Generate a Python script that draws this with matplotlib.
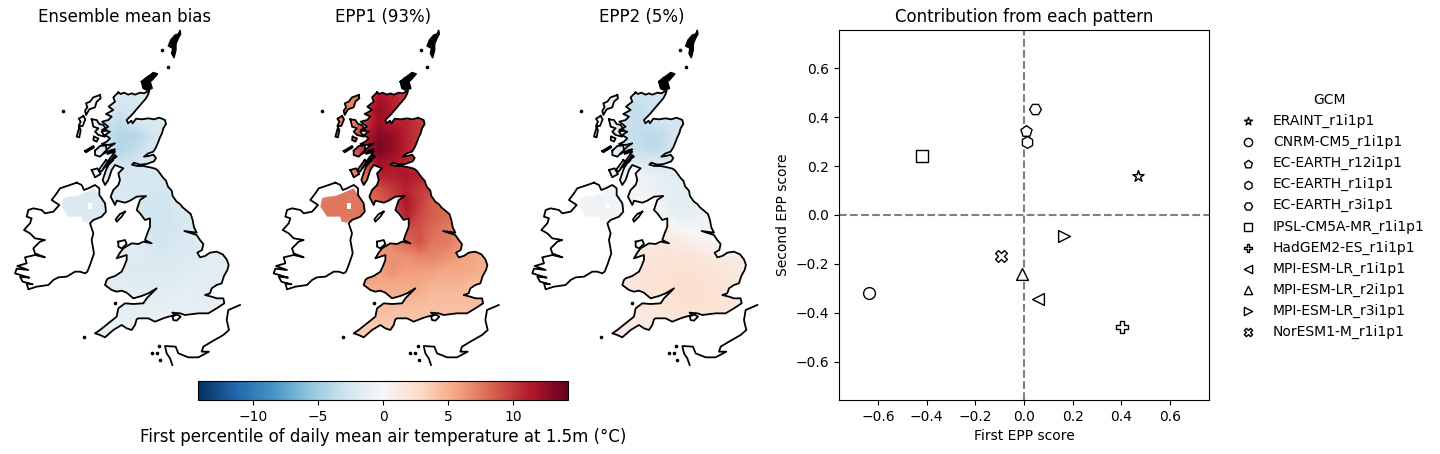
import numpy as np
import matplotlib
matplotlib.use('Agg')
import matplotlib.pyplot as plt
from matplotlib.path import Path

# coastlines, units are arbitrary map units
great_britain = [(355,217),(362,222),(372,218),(385,224),(395,220),(405,224),(420,218),(432,220),(448,212),(445,222),(438,235),(425,250),(418,258),(408,270),(398,282),(388,292),(380,300),(384,310),(394,302),(398,310),(408,296),(425,298),(445,295),(462,298),(478,293),(495,300),(498,312),(490,325),(486,340),(480,352),(474,368),(468,382),(460,395),(445,400),(432,410),(446,408),(460,404),(468,414),(462,424),(440,432),(420,434),(402,428),(396,434),(412,438),(430,438),(450,442),(466,446),(474,452),(484,466),(490,474),(498,482),(504,500),(515,512),(518,528),(530,545),(540,552),(548,562),(560,572),(572,582),(578,600),(582,622),(590,638),(575,636),(553,633),(575,640),(590,645),(600,660),(610,672),(606,690),(592,698),(600,712),(615,708),(630,698),(650,695),(668,703),(680,718),(686,735),(682,750),(672,768),(665,790),(650,795),(635,805),(630,820),(615,825),(635,830),(650,835),(670,835),(673,850),(650,865),(625,880),(595,880),(555,885),(540,880),(517,878),(525,886),(505,890),(490,895),(465,905),(445,895),(415,895),(410,898),(405,915),(395,930),(380,925),(365,915),(340,930),(315,952),(300,945),(285,940),(300,930),(325,910),(350,890),(355,865),(375,850),(400,852),(430,850),(440,835),(470,805),(445,820),(425,828),(400,835),(380,818),(365,812),(350,815),(335,810),(315,795),(320,780),(325,775),(345,768),(365,755),(372,740),(380,720),(380,705),(350,715),(360,698),(370,685),(395,670),(415,672),(430,665),(455,670),(435,660),(442,640),(450,620),(450,595),(435,600),(420,580),(410,570),(415,555),(420,540),(438,528),(410,530),(390,542),(375,548),(350,542),(345,555),(332,530),(340,510),(355,495),(360,480),(355,460),(370,445),(345,435),(335,450),(325,480),(315,495),(308,480),(318,450),(330,425),(340,420),(320,440),(345,405),(350,410),(335,420),(310,445),(330,415),(345,395),(322,402),(345,388),(335,390),(308,402),(330,380),(345,370),(325,375),(305,372),(320,365),(330,355),(315,345),(330,335),(306,330),(325,320),(306,305),(325,300),(335,290),(318,282),(340,270),(326,260),(345,245),(340,232)]
ireland = [(230,488),(245,495),(252,510),(265,505),(285,495),(298,505),(298,525),(315,550),(318,575),(305,590),(280,600),(270,610),(275,625),(280,640),(275,660),(282,700),(270,735),(262,755),(255,760),(240,755),(225,755),(200,770),(175,772),(160,780),(145,795),(110,800),(85,808),(80,790),(98,793),(68,785),(60,770),(88,773),(45,760),(50,746),(85,750),(52,738),(80,730),(75,712),(105,705),(135,712),(105,700),(100,685),(120,665),(135,660),(105,655),(90,640),(72,630),(90,610),(95,595),(80,590),(85,570),(100,565),(125,570),(135,580),(160,575),(178,555),(155,540),(170,520),(180,505),(210,495)]
northern_ireland = [(190,535),(205,530),(230,528),(255,518),(285,505),(298,525),(315,550),(318,575),(305,590),(280,600),(265,608),(248,605),(245,590),(205,590),(195,575),(185,560)]
lough_neagh = [(265,550),(277,550),(277,568),(265,568)]
lewis = [(300,225),(302,235),(290,245),(285,262),(268,268),(258,285),(255,272),(262,262),(258,250),(270,245),(280,232)]
north_uist = [(250,288),(256,298),(248,318),(236,318),(242,305),(236,296)]
south_uist = [(238,322),(242,330),(238,352),(230,350),(234,335)]
skye = [(275,298),(290,300),(298,312),(310,315),(320,330),(305,335),(315,350),(295,345),(285,335),(295,325),(280,320)]
rum = [(282,350),(295,355),(290,365),(280,360)]
mull = [(285,392),(300,378),(318,376),(320,392),(300,410),(285,405)]
tiree = [(255,393),(280,378),(282,382),(258,397)]
jura = [(318,420),(325,426),(304,455),(296,450)]
islay = [(275,450),(292,445),(302,462),(285,472)]
shetland = [(540,30),(535,42),(525,45),(512,60),(505,78),(518,85),(515,100),(522,114),(528,90),(528,72),(535,55),(542,42)]
orkney_a = [(425,185),(440,172),(448,178),(456,205),(440,210),(430,205)]
orkney_b = [(445,170),(460,158),(472,162),(458,178),(450,185)]
man = [(375,575),(365,590),(350,605),(347,598),(360,582)]
anglesey = [(355,665),(375,660),(380,672),(365,685),(355,680)]
wight = [(517,888),(532,884),(542,890),(530,902),(520,900)]
small_islands = [(190,273),(487,90),(505,142),(252,952),(345,850),(455,998),(480,1020),(477,977),(470,1000)]
france = [(720,855),(685,870),(680,900),(687,930),(670,945),(635,965),(610,980),(605,995),(627,995),(595,1012),(565,1012),(535,1000),(527,980),(495,978),(500,1000),(510,1015),(517,1035)]

# coarse read of the colours, rows north to south, columns west to east
grid_x = [200,240,280,320,360,400,440,480,520,560,600,640,680]
grid_y = [230,270,310,350,390,430,470,510,550,590,630,670,710,750,790,830,870,910,950]
bias = [
 [-.3,-.3,-.3,-2,-2.2,-2.2,-2,-2,-2,-2,-2,-2,-2],
 [-.3,-.3,-.3,-2.5,-2.8,-2.5,-2,-2,-2,-2,-2,-2,-2],
 [-.3,-.3,-.3,-3,-3.6,-2.8,-2.2,-2.2,-2,-2,-2,-2,-2],
 [-.3,-.3,-.5,-3.3,-4,-4.2,-3.2,-2.2,-2,-2,-2,-2,-2],
 [-.3,-.3,-.5,-3,-4.2,-3.6,-2.8,-2.2,-2,-2,-2,-2,-2],
 [-.3,-.3,-.5,-2,-3,-2.8,-2.2,-2.2,-2,-2,-2,-2,-2],
 [-.3,-.3,-.5,-2,-2.3,-2.3,-2.2,-2.2,-2.2,-2,-2,-2,-2],
 [-1.8,-2,-2,-2,-2.2,-2.2,-2.5,-2.5,-2.3,-2.2,-2,-2,-2],
 [-2,-2.1,-1.9,-2,-2.2,-2.2,-2.8,-2.8,-2.5,-2.2,-2,-2,-2],
 [-2,-2.1,-2,-2,-2.2,-2.5,-2.8,-2.8,-2.5,-2.2,-2,-2,-2],
 [-1.8,-1.8,-1.8,-1.8,-1.8,-2,-2.5,-2.8,-2.5,-2.2,-2,-1.8,-1.8],
 [-1.8,-1.8,-1.8,-1.8,-1.8,-1.8,-2.2,-2.8,-2.2,-2.2,-1.8,-1.8,-1.8],
 [-1.8,-1.8,-1.8,-1.8,-1.8,-1.8,-2,-2.2,-2,-2,-1.8,-1.7,-1.5],
 [-1.8,-1.8,-1.8,-1.8,-1.8,-2,-2,-2,-2,-1.8,-1.7,-1.5,-1.5],
 [-1.6,-1.6,-1.6,-1.6,-1.6,-1.8,-1.8,-1.8,-1.7,-1.5,-1.5,-1.5,-1.2],
 [-1.3,-1.3,-1.3,-1.3,-1.3,-1.3,-1.5,-1.5,-1.3,-1.3,-1.5,-1.3,-1.2],
 [-1.1,-1.1,-1.1,-1.2,-1.3,-1.3,-1.3,-1.2,-1.2,-1.3,-1.2,-1.1,-1.1],
 [-1,-1,-1,-1,-1.1,-1,-1,-1,-1,-1,-1,-1,-1],
 [-1,-1,-1,-1,-1,-1,-1,-1,-1,-1,-1,-1,-1],
]
epp1 = [
 [7,7,7,9,11.5,11,10,10,10,10,10,10,10],
 [7,7,7,10,12.5,11,10,10,10,10,10,10,10],
 [7,7,7,10,12,11,11,10,10,10,10,10,10],
 [7,7,7.5,11,13,12.5,11,10,10,10,10,10,10],
 [7,7,8,11,13.5,12.5,11,10,10,10,10,10,10],
 [7,7,7,9.5,12,11.5,11,10,10,10,10,10,10],
 [7,7,7,8,11,11,11.5,11,10,10,10,10,10],
 [7,7.5,7.5,8,9,10,11,10,9.5,9,9,9,9],
 [7.5,7.5,7.5,7.5,8.5,9.5,11.5,10,8.5,8,8,8,8],
 [7.5,7.5,7.5,8,8.5,8.5,11,9.5,8.5,8,7,7,7],
 [7,7,7,7,8,9,9,9,8,7.5,7,7,7],
 [6,6,6,6,6,7,8,9,7.5,7.5,6.5,6,6],
 [6,6,6,6,6,6.5,6.5,7,7,6.5,6,5.5,5],
 [6,6,6,6,6,6.5,6,6,6,5.5,5.5,5.5,5],
 [5.5,5.5,5.5,5.5,5.5,5.5,5.5,5.5,5,5,5,4.5,4.5],
 [5,5,5,5,5,5,5,5,4.5,4.5,4.5,4.5,4.5],
 [4.5,4.5,4.5,4.5,4.5,4.3,4.2,4.2,4.2,4.2,4.2,4.2,4.2],
 [4,4,4,3.8,3.8,3.8,3.8,4,4,4,4,4,4],
 [3.5,3.5,3.5,3.5,3.5,3.5,3.5,3.5,3.5,3.5,3.5,3.5,3.5],
]
epp2 = [
 [-.3,-.3,-.3,-2.5,-3,-3,-2.5,-2.5,-2.5,-2.5,-2.5,-2.5,-2.5],
 [-.3,-.3,-.3,-3,-3.5,-3,-2.5,-2.5,-2.5,-2.5,-2.5,-2.5,-2.5],
 [-.3,-.3,-.3,-3,-3.5,-3,-2.8,-2.5,-2.5,-2.5,-2.5,-2.5,-2.5],
 [-.3,-.3,-.5,-3,-3.5,-3.8,-3.5,-2.5,-2.5,-2.5,-2.5,-2.5,-2.5],
 [-.3,-.3,-.5,-2.8,-3.2,-3.8,-3.2,-2.5,-2.5,-2.5,-2.5,-2.5,-2.5],
 [-.3,-.3,-.5,-1.5,-2.2,-2.2,-2.2,-2,-2,-2,-2,-2,-2],
 [-.3,-.3,-.5,-.2,-.5,-1,-1.5,-1.5,-1.5,-1.5,-1.5,-1.5,-1.5],
 [-.4,-.4,-.4,-.2,-.3,-.8,-1.2,-1.5,-1.5,-1.5,-1.5,-1.5,-1.5],
 [-.4,-.5,-.4,-.3,.1,.2,-1,-1.8,-1.3,-1,-1,-1,-1],
 [-.4,-.5,-.5,-.4,.5,.6,-.4,-1.2,-1,-.8,-.7,-.7,-.7],
 [1,1,1,1,1,1,.9,.2,-.4,-.4,-.3,-.3,-.3],
 [1.5,1.5,1.5,1.5,1.5,1.5,1.6,1.4,.9,.6,.3,.3,.3],
 [1.6,1.6,1.6,1.6,1.6,1.8,1.9,1.9,1.8,1.5,1.2,1,1],
 [1.6,1.6,1.6,1.6,1.7,1.9,2.1,2.2,2.1,2,1.8,1.5,1.4],
 [1.5,1.5,1.5,1.5,1.7,2,2.1,2.3,2.3,2.2,1.9,1.7,1.5],
 [1.5,1.5,1.5,1.5,1.5,1.8,2,2.2,2.3,2.2,2,1.7,1.5],
 [1.4,1.4,1.4,1.4,1.5,1.6,1.8,2,2.1,2.1,1.8,1.6,1.4],
 [1.2,1.2,1.2,1.2,1.2,1.4,1.5,1.6,1.6,1.6,1.6,1.6,1.6],
 [1.2,1.2,1.2,1.2,1.2,1.2,1.2,1.2,1.2,1.2,1.2,1.2,1.2],
]

map_titles = ['Ensemble mean bias', 'EPP1 (93%)', 'EPP2 (5%)']
map_left = [0, 258.7, 517.3]
title_centre = [125, 383, 642]

gcm_names = ['ERAINT_r1i1p1','CNRM-CM5_r1i1p1','EC-EARTH_r12i1p1','EC-EARTH_r1i1p1','EC-EARTH_r3i1p1','IPSL-CM5A-MR_r1i1p1','HadGEM2-ES_r1i1p1','MPI-ESM-LR_r1i1p1','MPI-ESM-LR_r2i1p1','MPI-ESM-LR_r3i1p1','NorESM1-M_r1i1p1']
gcm_markers = ['*','o','p','h','H','s','P','<','^','>','X']
first_score = [0.468,-0.635,0.008,0.014,0.045,-0.419,0.403,0.058,-0.008,0.164,-0.096]
second_score = [0.159,-0.318,0.343,0.297,0.433,0.241,-0.457,-0.342,-0.24,-0.084,-0.166]

W, H = 1440, 454
fig = plt.figure(figsize=(W/100, H/100), dpi=100)

def px_axes(left, top, width, height):
    return fig.add_axes([left/W, 1-(top+height)/H, width/W, height/H])

coloured = [great_britain, northern_ireland, lewis, north_uist, south_uist, skye, rum, mull, tiree, jura, islay]
outlined = [great_britain, ireland, lewis, north_uist, south_uist, skye, rum, mull, tiree, jura, islay, orkney_a, orkney_b, man, anglesey, wight]

clip = Path.make_compound_path(*[Path(np.array(p + [p[0]])) for p in coloured])
hole_x, hole_y = zip(*(lough_neagh + lough_neagh[:1]))

for left, title, centre, values in zip(map_left, map_titles, title_centre, [bias, epp1, epp2]):
    ax = px_axes(left, 20, 260, 350)
    im = ax.imshow(values, cmap='RdBu_r', vmin=-14.2, vmax=14.2, interpolation='bilinear',
                   extent=[grid_x[0]-20, grid_x[-1]+20, grid_y[-1]+20, grid_y[0]-20], aspect='auto')
    im.set_clip_path(clip, transform=ax.transData)
    ax.fill(hole_x, hole_y, color='white', lw=0)
    for p in outlined:
        x, y = zip(*(p + p[:1]))
        ax.plot(x, y, color='black', lw=1.3, solid_joinstyle='round')
    sh_x, sh_y = zip(*shetland)
    ax.fill(sh_x, sh_y, color='black', lw=1)
    for p in [orkney_a, orkney_b]:
        ox, oy = zip(*p)
        ax.fill(ox, oy, color='black', lw=0)
    sx, sy = zip(*small_islands)
    ax.plot(sx, sy, ls='none', marker='o', ms=1.6, color='black')
    fx, fy = zip(*france)
    ax.plot(fx, fy, color='black', lw=1.3)
    ax.set_xlim(0, 780)
    ax.set_ylim(1050, 0)
    ax.axis('off')
    ax.set_title(title, fontsize=12, pad=0, y=1-2/350, x=(centre-left)/260)

cax = px_axes(198, 381, 370, 19)
cb = fig.colorbar(im, cax=cax, orientation='horizontal')
cb.set_ticks([-10, -5, 0, 5, 10])
cb.set_label('First percentile of daily mean air temperature at 1.5m (°C)', fontsize=12, labelpad=3)

ax = px_axes(839, 30, 370, 370)
ax.axhline(0, color='grey', ls='--', lw=1.5, zorder=1)
ax.axvline(0, color='grey', ls='--', lw=1.5, zorder=1)
for name, m, a, b in zip(gcm_names, gcm_markers, first_score, second_score):
    ax.scatter(a, b, marker=m, s=72, facecolor='white', edgecolor='black', linewidth=1.0, zorder=3, label=name)
ax.set_xlim(-0.76, 0.76)
ax.set_ylim(-0.757, 0.757)
ax.set_xlabel('First EPP score')
ax.set_ylabel('Second EPP score')
ax.set_title('Contribution from each pattern', fontsize=12)
ax.legend(title='GCM', frameon=False, loc='center left', bbox_to_anchor=(1.0335, 0.5-1/370), markerscale=0.7)

fig.savefig('out.png', dpi=100)
